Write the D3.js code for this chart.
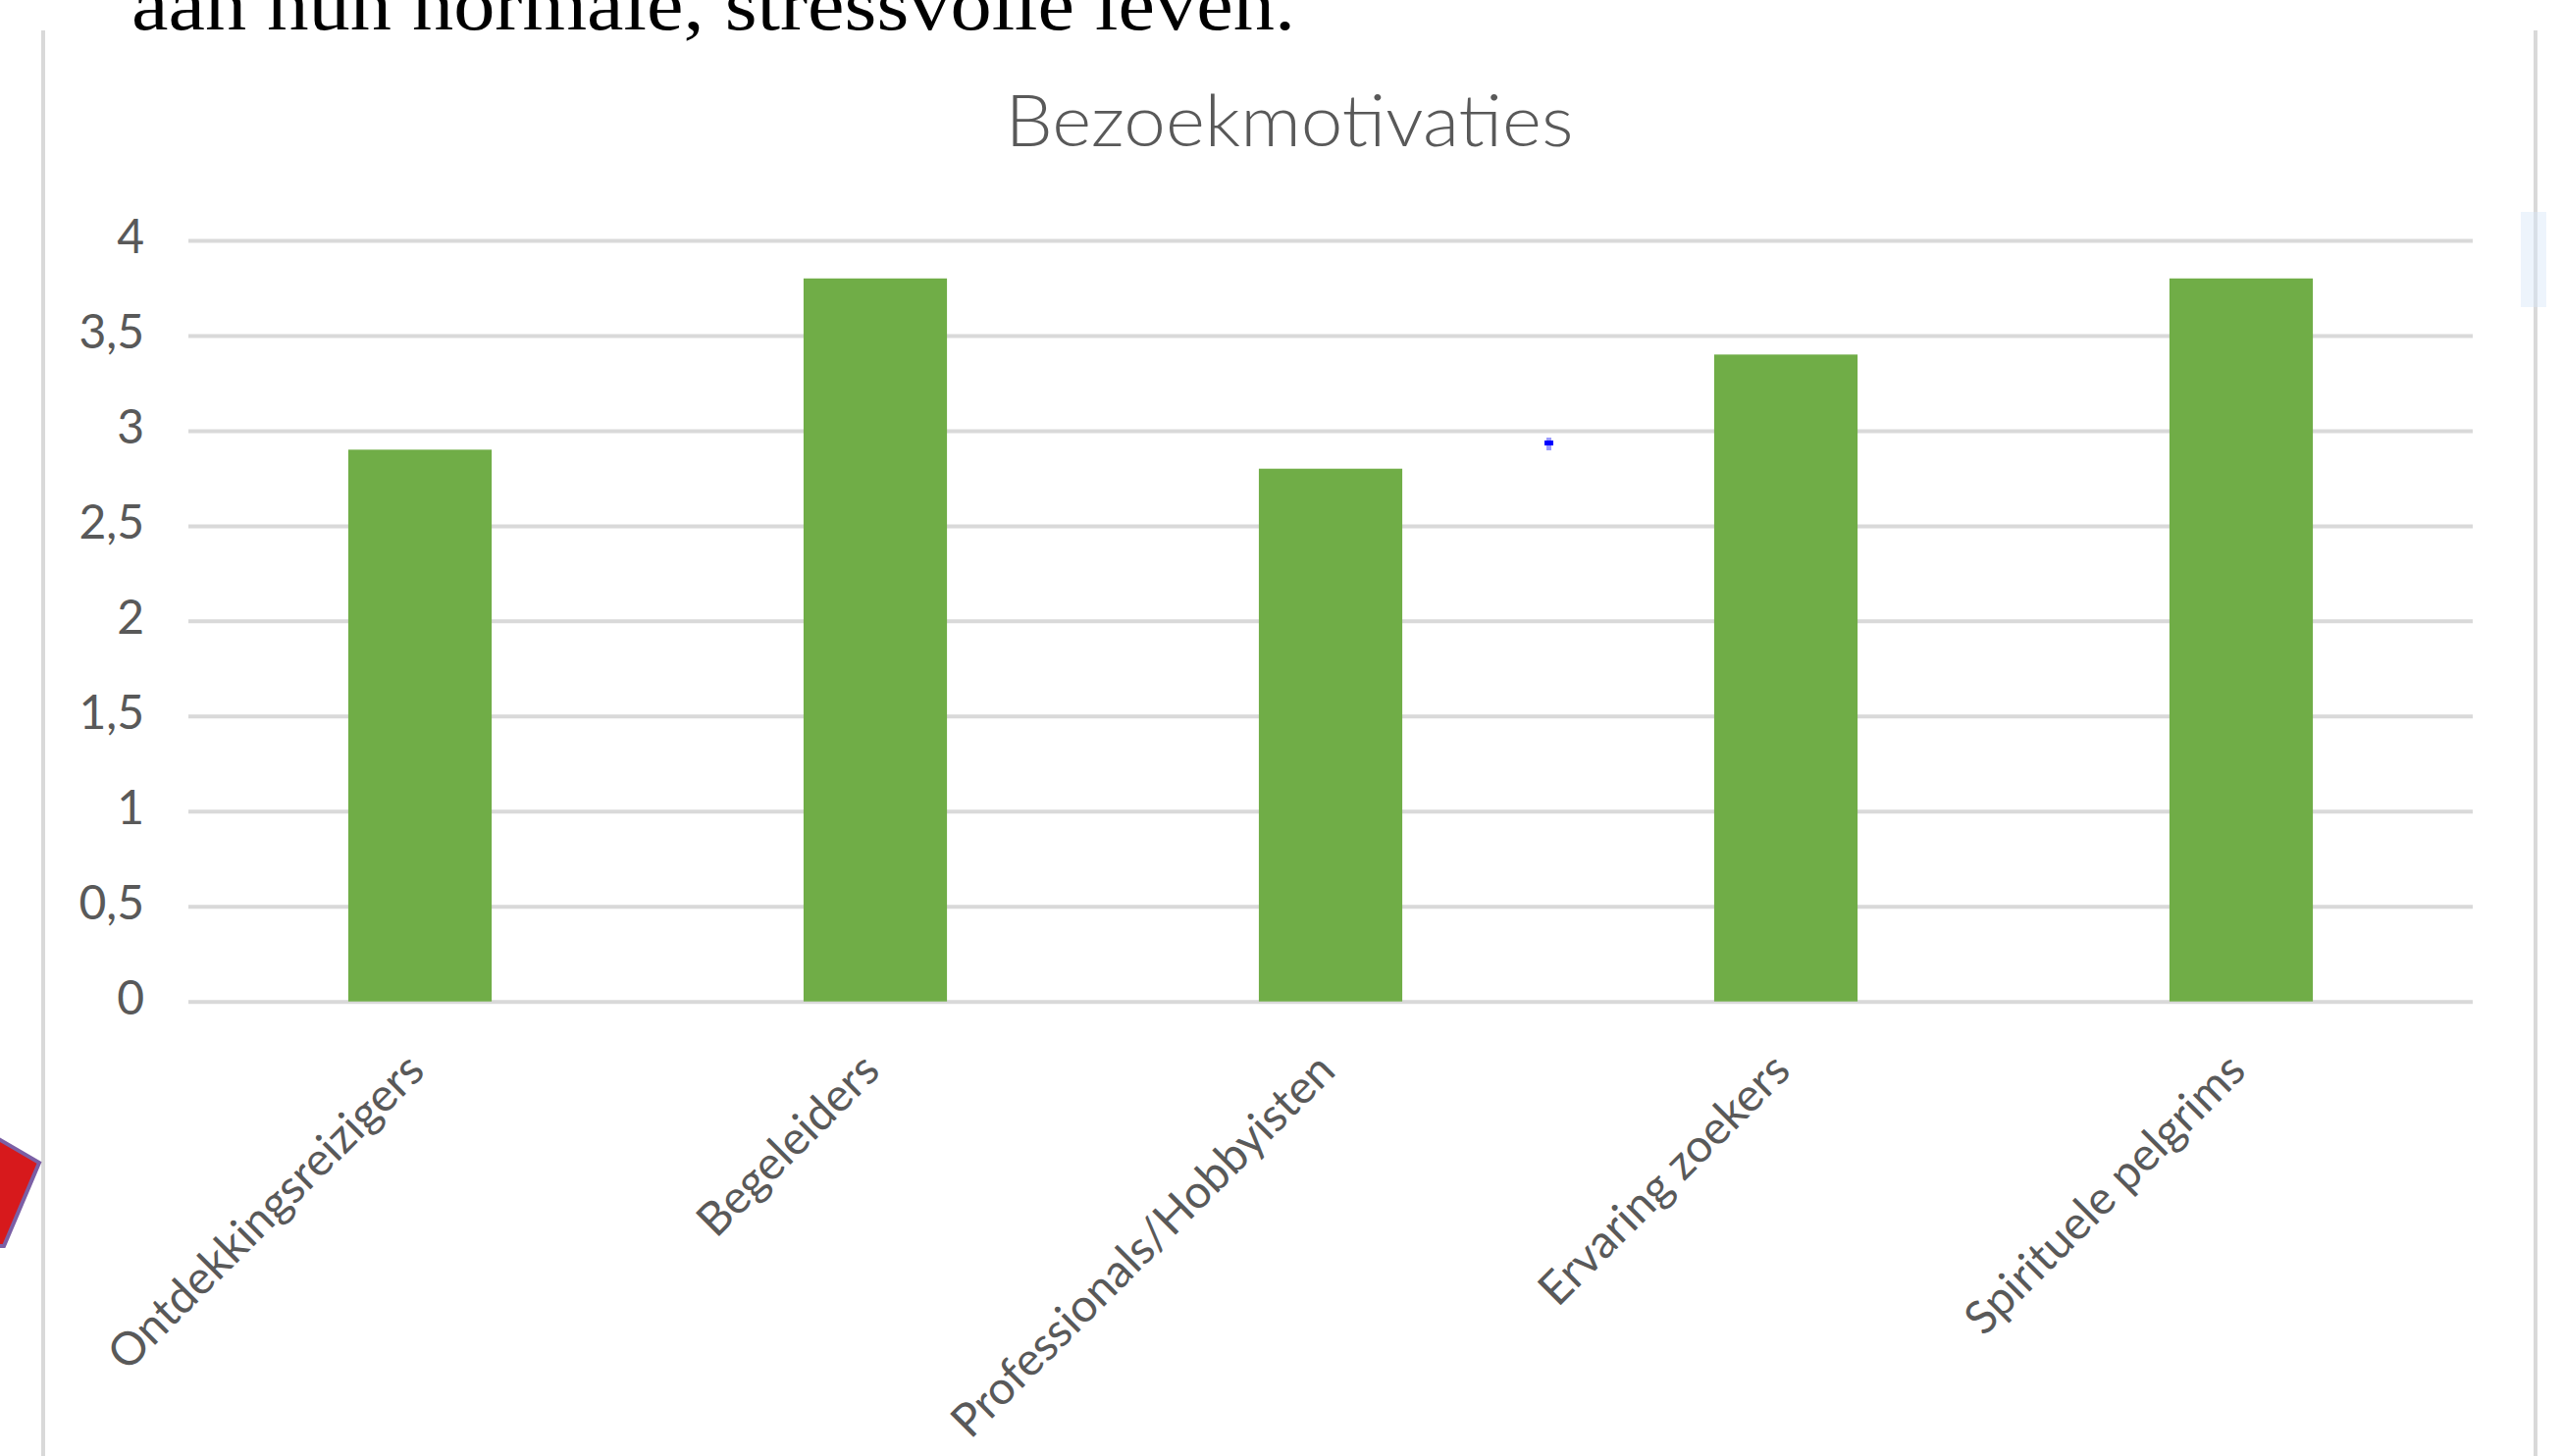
<!DOCTYPE html>
<html>
<head>
<meta charset="utf-8">
<script src="https://cdn.jsdelivr.net/npm/d3@7"></script>
<style>
  body { margin: 0; background: #fff; }
  svg { display: block; }
</style>
</head>
<body>
<svg id="chart" width="2612" height="1484"></svg>
<script>
// chart data
var categories = ["Ontdekkingsreizigers", "Begeleiders", "Professionals/Hobbyisten", "Ervaring zoekers", "Spirituele pelgrims"];
var scores = [2.9, 3.8, 2.8, 3.4, 3.8];
var yTicks = [0, 0.5, 1, 1.5, 2, 2.5, 3, 3.5, 4];
var chartTitle = "Bezoekmotivaties";
var pageText = "aan hun normale, stressvolle leven.";

var svg = d3.select("#chart");
var grey = "#595959";

// page bits around the chart (document screenshot)
svg.append("text")
    .attr("x", 134).attr("y", 30)
    .attr("textLength", 1186).attr("lengthAdjust", "spacingAndGlyphs")
    .style("font-family", "'Liberation Serif', serif")
    .style("font-size", "76px")
    .style("fill", "#000")
    .text(pageText);

svg.append("line")
    .attr("x1", 44).attr("x2", 44).attr("y1", 31).attr("y2", 1484)
    .style("stroke", "#d9d9d9").style("stroke-width", 4);
svg.append("line")
    .attr("x1", 2584).attr("x2", 2584).attr("y1", 31).attr("y2", 1484)
    .style("stroke", "#d9d9d9").style("stroke-width", 4);
svg.append("rect")
    .attr("x", 2569).attr("y", 216).attr("width", 26).attr("height", 97)
    .style("fill", "#d6e6f8").style("opacity", 0.45);

svg.append("path")
    .attr("d", "M-10,1156 L40,1185 L4,1270 L-10,1270 Z")
    .style("fill", "#d7191c").style("stroke", "#7b5fa5").style("stroke-width", 4);

// scales
var x = d3.scaleBand()
    .domain(categories)
    .range([196, 2516])
    .paddingInner(0.685)
    .paddingOuter(0.3425);

var y = d3.scaleLinear()
    .domain([0, 4])
    .range([1020.7, 245]);

var nl = d3.formatLocale({decimal: ",", thousands: ".", grouping: [3], currency: ["€", ""]});
var fmt = nl.format("~g");

// y axis with gridlines
var yAxis = svg.append("g")
    .attr("transform", "translate(192,0)")
    .call(d3.axisLeft(y).tickValues(yTicks).tickFormat(fmt).tickSize(-(2520 - 192)).tickPadding(45));
yAxis.select(".domain").remove();
yAxis.selectAll(".tick line")
    .style("stroke", "#d9d9d9").style("stroke-width", 4);
yAxis.selectAll(".tick text")
    .attr("dy", "0.26em")
    .style("font-family", "Lato, sans-serif")
    .style("font-size", "48px")
    .style("fill", grey);

// bars
svg.append("g").selectAll("rect")
    .data(scores)
    .join("rect")
    .attr("x", function (d, i) { return x(categories[i]); })
    .attr("width", x.bandwidth())
    .attr("y", function (d) { return y(d); })
    .attr("height", function (d) { return y(0) - y(d); })
    .style("fill", "#70ad47");

// x axis labels, rotated
var xAxis = svg.append("g")
    .attr("transform", "translate(0," + y(0) + ")")
    .call(d3.axisBottom(x).tickSize(0));
xAxis.select(".domain").remove();
xAxis.selectAll(".tick text")
    .attr("x", 0).attr("y", 0).attr("dy", 0)
    .attr("text-anchor", "end")
    .attr("transform", "translate(7,73) rotate(-45)")
    .style("font-family", "Lato, sans-serif")
    .style("font-size", "47px")
    .style("fill", grey);

// title
svg.append("text")
    .attr("x", 1314).attr("y", 149)
    .attr("text-anchor", "middle")
    .attr("textLength", 579).attr("lengthAdjust", "spacingAndGlyphs")
    .style("font-family", "Lato, sans-serif")
    .style("font-weight", 300)
    .style("font-size", "72px")
    .style("fill", grey)
    .text(chartTitle);

// stray blue cursor mark
svg.append("rect").attr("x", 1576).attr("y", 446).attr("width", 5).attr("height", 13).style("fill", "#9a9aff");
svg.append("rect").attr("x", 1574).attr("y", 449).attr("width", 9).attr("height", 5).style("fill", "#0000ff");
</script>
</body>
</html>
